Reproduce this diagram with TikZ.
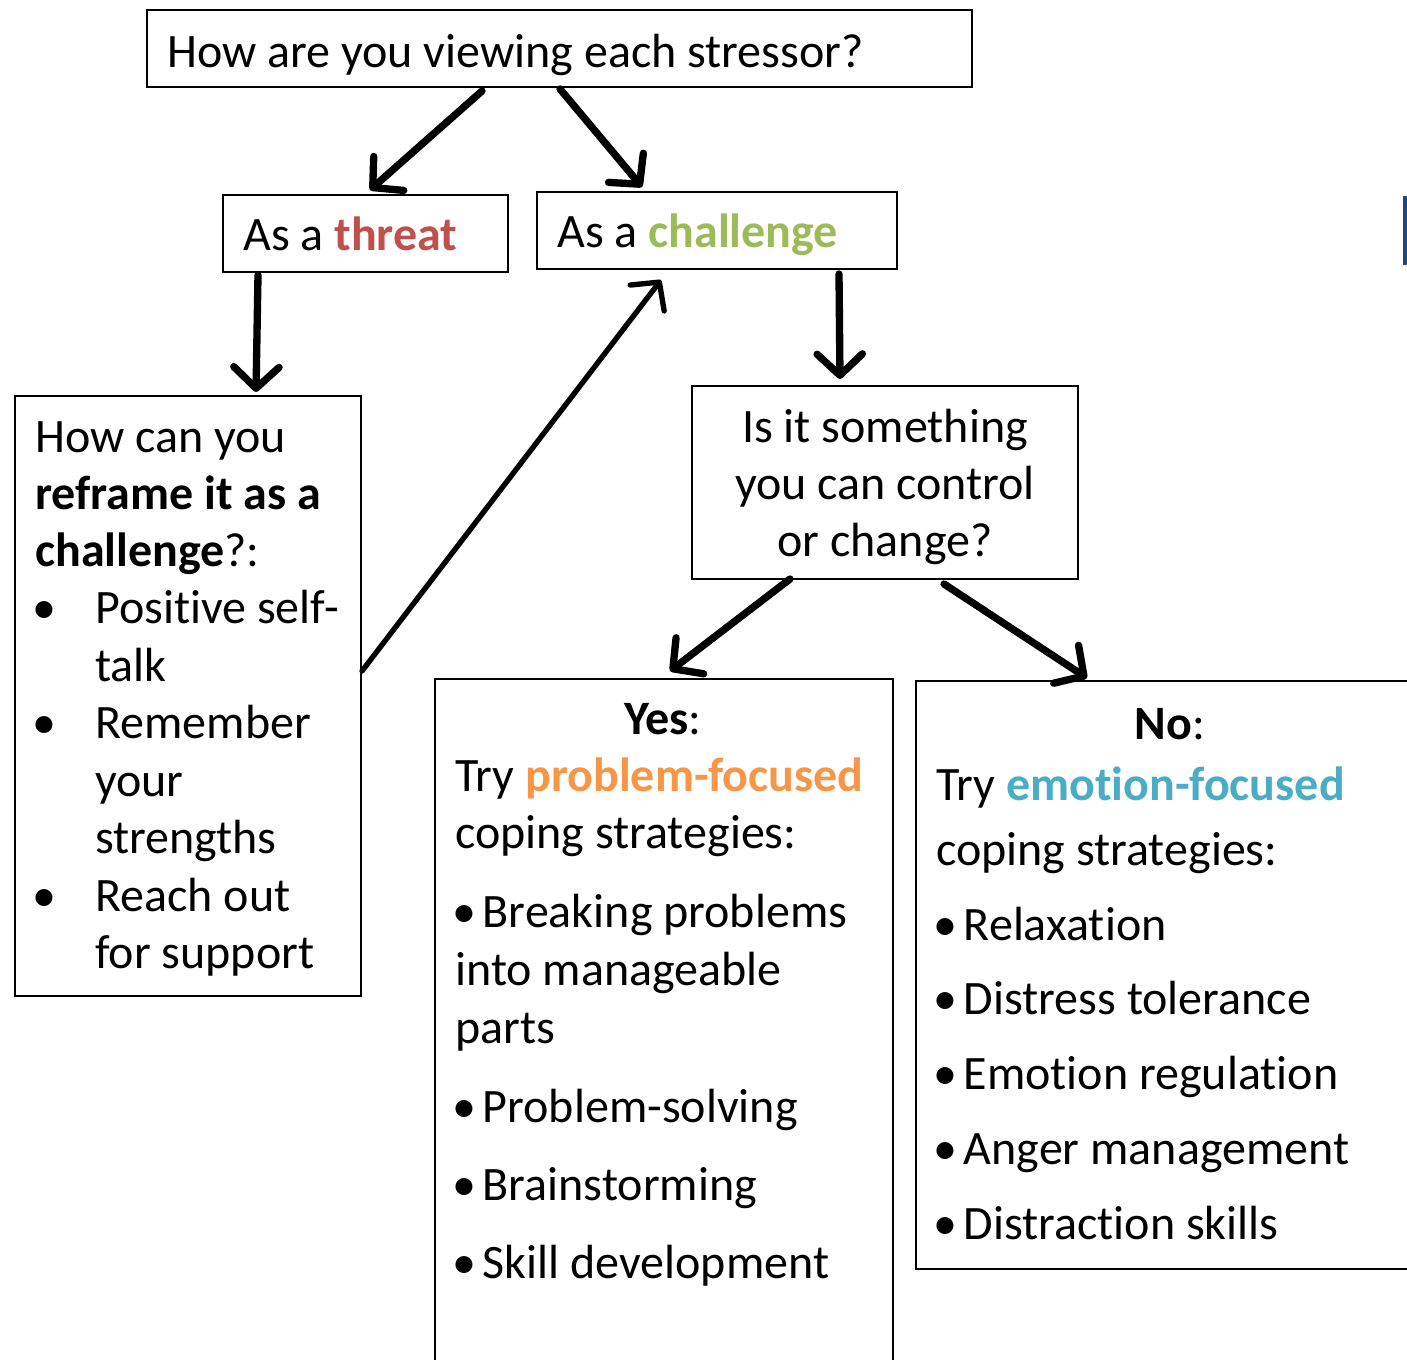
\documentclass[tikz,border=0pt]{standalone}
\usepackage{fontspec}
\setmainfont{Carlito}[Ligatures={NoCommon}]
\usetikzlibrary{arrows.meta,fit}
\definecolor{threatc}{HTML}{C0504D}
\definecolor{challc}{HTML}{9BBB59}
\definecolor{probc}{HTML}{F79646}
\definecolor{emoc}{HTML}{4BACC6}
\definecolor{barc}{HTML}{1F497D}
\newcommand{\bul}{•\kern5pt}
\tikzset{
  box/.style={draw=black, line width=1.3pt, inner sep=0pt, fill=white},
  txt/.style={anchor=base west, inner sep=0pt, font=\fontsize{36}{42}\selectfont},
  ctxt/.style={anchor=base, inner sep=0pt, font=\fontsize{36}{42}\selectfont},
  big/.style={line width=5.5pt, line cap=round, -{Straight Barb[length=16pt,width=34pt,round]}},
  thin/.style={line width=4pt, line cap=round, -{Straight Barb[length=15pt,width=32pt,round]}}
}
\begin{document}
\begin{tikzpicture}[x=0.75pt,y=-0.75pt]
\useasboundingbox (0,0) rectangle (1407,1360);
\clip (0,0) rectangle (1407,1360);
% boxes
\node[box, fit={(147,10) (972,87)}] (top) {};
\node[box, fit={(223,195) (508,272)}] (threat) {};
\node[box, fit={(537,192) (897,269)}] (chall) {};
\node[box, fit={(15,396) (361,996)}] (reframe) {};
\node[box, fit={(692,386) (1078,579)}] (ctrl) {};
\node[box, fit={(435,679) (893,1400)}] (yes) {};
\node[box, fit={(916,681) (1440,1269)}] (no) {};
\fill[barc] (1403,196) rectangle (1407,265);
% texts
\begin{scope}[yshift=-1.5pt]
\node[txt] (t1) at (167,65) {How are you viewing each stressor?};
\node[txt] (t2) at (243,248) {As a \textbf{\color{threatc}threat}};
\node[txt] (t3) at (557,245) {As a \textbf{\color{challc}challenge}};
% reframe box
\node[txt] (r1) at (35,450) {How can you};
\node[txt] (r2) at (35,507) {\textbf{reframe it as a}};
\node[txt] (r3) at (35,564) {\textbf{challenge}?:};
\node[txt] (rb1) at (32,621) {•};
\node[txt] (r4) at (95,621) {Positive self-};
\node[txt] (r5) at (95,679) {talk};
\node[txt] (rb2) at (32,736) {•};
\node[txt] (r6) at (95,736) {Remember};
\node[txt] (r7) at (95,794) {your};
\node[txt] (r8) at (95,851) {strengths};
\node[txt] (rb3) at (32,909) {•};
\node[txt] (r9) at (95,909) {Reach out};
\node[txt] (r10) at (95,966) {for support};
% control box
\node[ctxt] (c1) at (885,440) {Is it something};
\node[ctxt] (c2) at (885,497) {you can control};
\node[ctxt] (c3) at (885,554) {or change?};
% yes box
\node[ctxt] (y1) at (663,732) {\textbf{Yes}:};
\node[txt] (y2) at (455,789) {Try \textbf{\color{probc}problem-focused}};
\node[txt] (y3) at (455,846) {coping strategies:};
\node[txt] (y4) at (452,925) {\bul Breaking problems};
\node[txt] (y5) at (455,983) {into manageable};
\node[txt] (y6) at (455,1041) {parts};
\node[txt] (y7) at (452,1120) {\bul Problem-solving};
\node[txt] (y8) at (452,1198) {\bul Brainstorming};
\node[txt] (y9) at (452,1276) {\bul Skill development};
% no box
\node[ctxt] (n1) at (1170,737) {\textbf{No}:};
\node[txt] (n2) at (936,798) {Try \textbf{\color{emoc}emotion-focused}};
\node[txt] (n3) at (936,863) {coping strategies:};
\node[txt] (n4) at (933,938) {\bul Relaxation};
\node[txt] (n5) at (933,1012) {\bul Distress tolerance};
\node[txt] (n6) at (933,1087) {\bul Emotion regulation};
\node[txt] (n7) at (933,1162) {\bul Anger management};
\node[txt] (n8) at (933,1237) {\bul Distraction skills};
\end{scope}
% arrow end points
\coordinate (a1s) at (482,91);  \coordinate (a1e) at (370,190);
\coordinate (a2s) at (560,89);  \coordinate (a2e) at (642,187);
\coordinate (a3s) at (258,275); \coordinate (a3e) at (256,392);
\coordinate (a4s) at (362,671); \coordinate (a4e) at (661,280);
\coordinate (a5s) at (839,274); \coordinate (a5e) at (840,379);
\coordinate (a6s) at (790,579); \coordinate (a6e) at (670,671);
\coordinate (a7s) at (944,584); \coordinate (a7e) at (1087,678);
\draw[big] (a1s) -- (a1e);
\draw[big] (a2s) -- (a2e);
\draw[big] (a3s) -- (a3e);
\draw[thin] (a4s) -- (a4e);
\draw[big] (a5s) -- (a5e);
\draw[big] (a6s) -- (a6e);
\draw[big] (a7s) -- (a7e);
\end{tikzpicture}
\end{document}
